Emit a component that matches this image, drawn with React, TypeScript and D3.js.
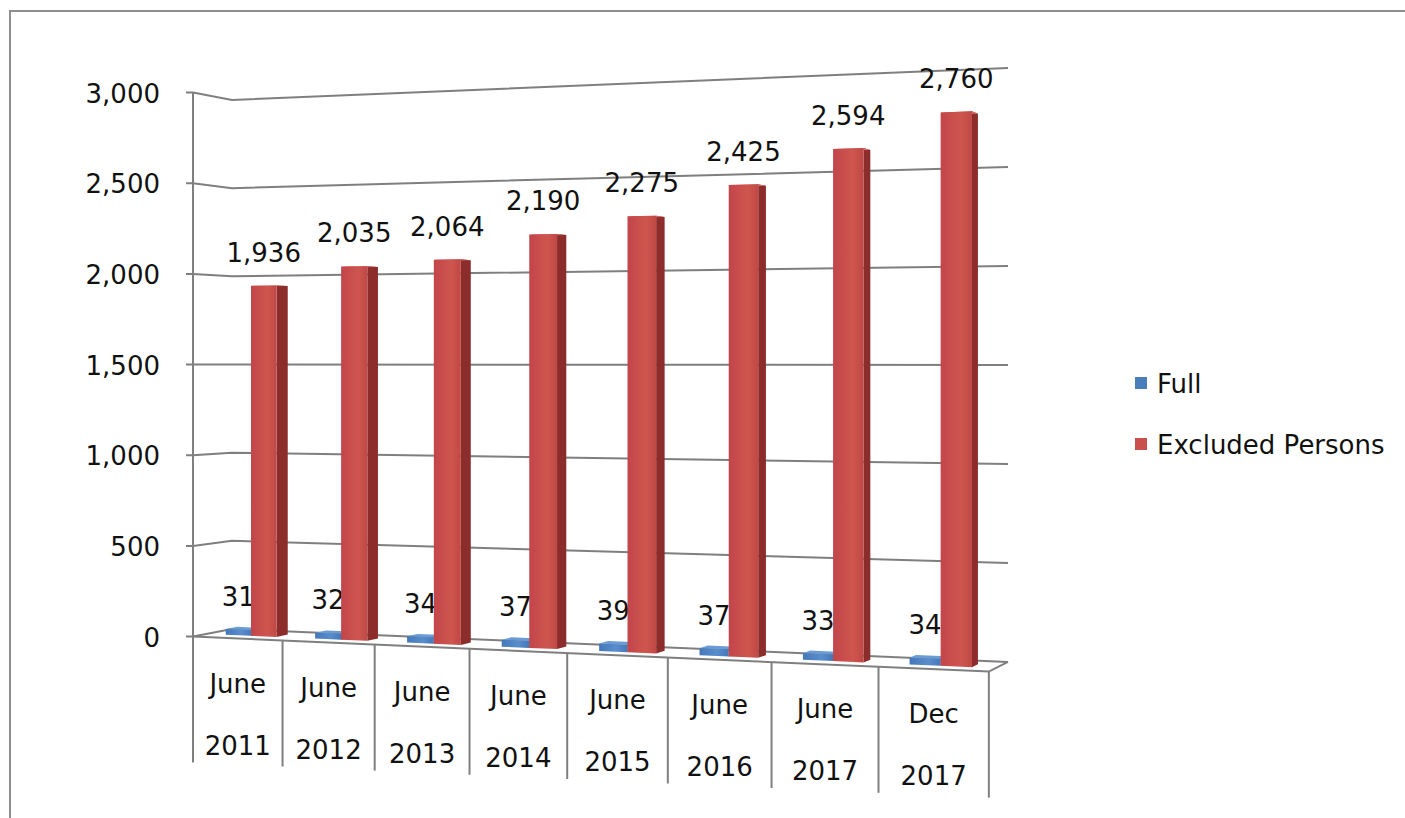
import * as d3 from 'd3'

const categories = ['June 2011', 'June 2012', 'June 2013', 'June 2014', 'June 2015', 'June 2016', 'June 2017', 'Dec 2017']
const monthLabels = ['June', 'June', 'June', 'June', 'June', 'June', 'June', 'Dec']
const yearLabels = ['2011', '2012', '2013', '2014', '2015', '2016', '2017', '2017']
const seriesNames = ['Full', 'Excluded Persons']
const fullValues = [31, 32, 34, 37, 39, 37, 33, 34]
const excludedValues = [1936, 2035, 2064, 2190, 2275, 2425, 2594, 2760]
const yTicks = [0, 500, 1000, 1500, 2000, 2500, 3000]

const W = 1405
const H = 818
const FONT = '"DejaVu Sans", sans-serif'
const FS = 26
const INK = '#111'

// perspective of the 3d box, read off three corners of the walls:
// front-left edge at x 193 (wall 544px high), back-left at x 232 (529px), back-right at x 1008 (594px)
const HORIZON = 360.4
const EYE = 0.5077 // eye level, as a fraction of the wall height
const ia = 1 / 544
const ib = 1 / 594 - 1 / 529
const ic = 1 / 529 - 1 / 544
const qa = 193 / 544
const qb = 1008 / 594 - 232 / 529
const qc = 232 / 529 - 193 / 544

// X: 0..1 across the categories, Z: 0 front .. 1 back, f: 0..1 of the value axis
function project(X: number, Z: number, f: number): [number, number] {
  const h = 1 / (ia + ib * X + ic * Z)
  return [(qa + qb * X + qc * Z) * h, HORIZON - h * (f - EYE)]
}

const pts = (list: [number, number][]) => list.map(p => p.join(',')).join(' ')

const colors = {
  'Full': { front: '#4a7ebb', side: '#35608f', top: '#6a9bd6' },
  'Excluded Persons': { front: '#c9504c', side: '#8c2d2b', top: '#d56966' },
}

const Z0 = 0.35
const Z1 = 0.65

const App = () => {
  const x = d3.scaleBand().domain(categories).range([0, 1])
  const xs = d3.scaleBand().domain(seriesNames).range([0, x.bandwidth()]).paddingInner(0).paddingOuter(0.75)
  const y = d3.scaleLinear().domain([0, 3000]).range([0, 1])
  const fmt = d3.format(',')

  const grid = '#7f7f7f'
  const sw = 2

  const gridlines = yTicks.map(t => {
    const f = y(t)
    const a = project(0, 0, f)
    const b = project(0, 1, f)
    const c = project(1, 1, f)
    return (
      <g key={'g' + t}>
        <polyline points={pts([[186, a[1]], a, b, c])} fill="none" stroke={grid} strokeWidth={sw} />
        <text x={160} y={a[1] + 10} textAnchor="end" fontSize={FS} fontFamily={FONT} fill={INK}>{fmt(t)}</text>
      </g>
    )
  })

  const floorFront = [project(0, 0, 0), project(1, 0, 0), project(1, 1, 0)]

  const edges = d3.range(categories.length + 1).map(i => i / categories.length)
  const separators = edges.map((X, i) => {
    const top = project(X, 0, i === 0 ? 1 : 0)
    const base = project(X, 0, 0)
    return <line key={'s' + i} x1={top[0]} y1={top[1]} x2={base[0]} y2={base[1] + 126} stroke={grid} strokeWidth={sw} />
  })

  const catLabels = categories.map((c, i) => {
    const l = project(x(c), 0, 0)
    const r = project(x(c) + x.bandwidth(), 0, 0)
    const cx = (l[0] + r[0]) / 2
    const cy = (l[1] + r[1]) / 2
    return (
      <g key={'c' + i} fontSize={FS} fontFamily={FONT} fill={INK} textAnchor="middle">
        <text x={cx} y={cy + 54}>{monthLabels[i]}</text>
        <text x={cx} y={cy + 116}>{yearLabels[i]}</text>
      </g>
    )
  })

  const bars = categories.map((c, i) => {
    return seriesNames.map((s, j) => {
      const v = j === 0 ? fullValues[i] : excludedValues[i]
      const X0 = x(c) + xs(s)
      const X1 = X0 + xs.bandwidth()
      const f = y(v)
      const col = colors[s]
      const side = [project(X1, Z0, 0), project(X1, Z1, 0), project(X1, Z1, f), project(X1, Z0, f)]
      const top = [project(X0, Z0, f), project(X1, Z0, f), project(X1, Z1, f), project(X0, Z1, f)]
      const front = [project(X0, Z0, 0), project(X1, Z0, 0), project(X1, Z0, f), project(X0, Z0, f)]
      const lab = project((X0 + X1) / 2, Z0, f)
      return (
        <g key={'b' + i + s}>
          <polygon points={pts(side)} fill={col.side} />
          <polygon points={pts(top)} fill={col.top} />
          <polygon points={pts(front)} fill={`url(#grad${j})`} />
          <text x={lab[0]} y={lab[1] - 24} textAnchor="middle" fontSize={FS} fontFamily={FONT} fill={INK}>{fmt(v)}</text>
        </g>
      )
    })
  })

  return (
    <svg width={W} height={H} style={{ position: 'absolute', left: 0, top: 0 }}>
      <defs>
        <linearGradient id="grad0" x1="0" x2="1" y1="0" y2="0">
          <stop offset="0" stopColor="#4478b8" />
          <stop offset="0.6" stopColor="#5a8dcc" />
          <stop offset="1" stopColor="#4478b8" />
        </linearGradient>
        <linearGradient id="grad1" x1="0" x2="1" y1="0" y2="0">
          <stop offset="0" stopColor="#c2454a" />
          <stop offset="0.65" stopColor="#cf564f" />
          <stop offset="1" stopColor="#c04845" />
        </linearGradient>
      </defs>
      <rect width={W} height={H} fill="#fff" />
      <path d={`M10,${H} V11 H${W}`} fill="none" stroke="#8f8f8f" strokeWidth={2} />
      {gridlines}
      <polyline points={pts(floorFront)} fill="none" stroke={grid} strokeWidth={sw} />
      {separators}
      {catLabels}
      {bars}
      <g fontSize={FS} fontFamily={FONT} fill={INK}>
        <rect x={1135} y={377} width={12} height={12} fill="#4a7ebb" />
        <text x={1157} y={393}>{seriesNames[0]}</text>
        <rect x={1135} y={438} width={12} height={12} fill="#c9504c" />
        <text x={1157} y={454}>{seriesNames[1]}</text>
      </g>
    </svg>
  )
}

export default App
